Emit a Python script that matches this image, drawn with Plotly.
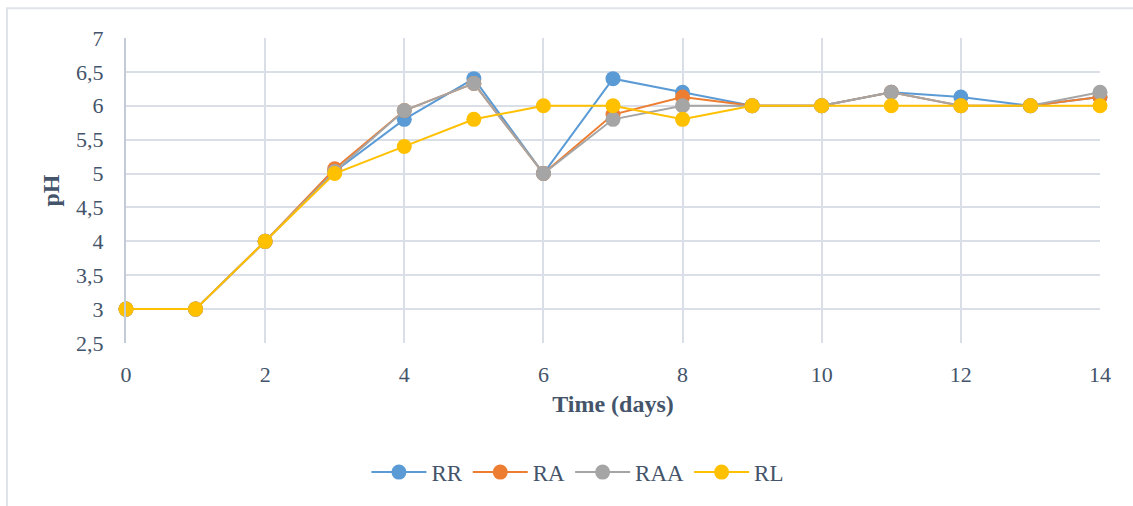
import plotly.graph_objects as go

# pH measurements over the fermentation period
days = list(range(15))
ph_rr = [3, 3, 4, 5.03, 5.8, 6.4, 5, 6.4, 6.2, 6, 6, 6.2, 6.13, 6, 6.13]
ph_ra = [3, 3, 4, 5.07, 5.93, 6.33, 5, 5.87, 6.13, 6, 6, 6.2, 6, 6, 6.13]
ph_raa = [3, 3, 4, 5.03, 5.93, 6.33, 5, 5.8, 6, 6, 6, 6.2, 6, 6, 6.2]
ph_rl = [3, 3, 4, 5, 5.4, 5.8, 6, 6, 5.8, 6, 6, 6, 6, 6, 6]

series = [
    ("RR", ph_rr, "#5b9bd5"),
    ("RA", ph_ra, "#ed7d31"),
    ("RAA", ph_raa, "#a5a5a5"),
    ("RL", ph_rl, "#ffc000"),
]

TEXT = "#44546a"
GRID = "#d9dee7"
FONT = "Liberation Serif"

fig = go.Figure()
for name, vals, color in series:
    fig.add_trace(go.Scatter(
        x=days, y=vals, name=name, mode="lines+markers",
        line=dict(color=color, width=2),
        marker=dict(color=color, size=15),
        cliponaxis=False,
    ))

fig.update_layout(
    width=1133, height=506,
    margin=dict(l=126, r=33, t=38, b=161),
    paper_bgcolor="white", plot_bgcolor="white",
    separators=",.",
    font=dict(family=FONT, color=TEXT, size=22),
    showlegend=True,
    legend=dict(
        orientation="h", x=0.464, xanchor="center",
        y=-0.4235, yanchor="middle",
        font=dict(size=23, family=FONT, color=TEXT),
        itemwidth=55, tracegroupgap=0,
    ),
    # chart frame: left and top edges fall inside the page
    shapes=[dict(
        type="rect", xref="paper", yref="paper",
        x0=-0.1222, x1=1.045, y0=-0.58, y1=1.0977,
        line=dict(color="#e0e4ea", width=2), layer="below",
    )],
)

fig.update_xaxes(
    range=[0, 14], dtick=2, tick0=0,
    showgrid=True, gridcolor=GRID, gridwidth=2,
    zeroline=False, showline=False,
    ticks="outside", ticklen=12, tickcolor="rgba(0,0,0,0)",
    tickfont=dict(size=22, family=FONT, color=TEXT),
    title=dict(text="<b>Time (days)</b>", standoff=8,
               font=dict(size=24, family=FONT, color=TEXT)),
)
fig.update_yaxes(
    range=[2.5, 7], dtick=0.5, tick0=2.5,
    showgrid=True, gridcolor=GRID, gridwidth=2,
    zeroline=False, showline=True, linecolor="#c3cad8", linewidth=2,
    ticks="outside", ticklen=16, tickcolor="rgba(0,0,0,0)",
    tickfont=dict(size=22, family=FONT, color=TEXT),
    title=dict(text="<b>pH</b>", standoff=10,
               font=dict(size=24, family=FONT, color=TEXT)),
)

fig.write_html("out.html")
